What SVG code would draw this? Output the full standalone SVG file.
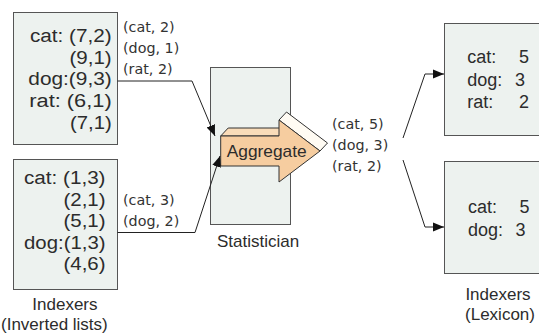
<svg xmlns="http://www.w3.org/2000/svg" width="539" height="333" viewBox="0 0 539 333">
<style>
.box{fill:#edf2ef;stroke:#555;stroke-width:1}
.t{font-family:"Liberation Sans",Arial,sans-serif;font-size:18px;fill:#2c2c2c}
.cap{font-family:"Liberation Sans",Arial,sans-serif;font-size:17px;fill:#2c2c2c}
.lbl{font-family:"DejaVu Sans","Liberation Sans",sans-serif;font-size:14.3px;fill:#333}
.ln{fill:none;stroke:#222;stroke-width:1}
</style>
<defs>
<marker id="ah" markerUnits="userSpaceOnUse" markerWidth="12" markerHeight="12" viewBox="0 0 12 12" refX="11" refY="6" orient="auto">
<path d="M0,1.5 L11,6 L0,10.5 Z" fill="#111"/>
</marker>
</defs>
<rect width="539" height="333" fill="#fff"/>

<g id="indexer1">
<rect class="box" x="13.5" y="12.5" width="104" height="132"/>
<text class="t" x="30" y="42" textLength="81.7" lengthAdjust="spacingAndGlyphs">cat: (7,2)</text>
<text class="t" x="69.5" y="63.5" textLength="42.2" lengthAdjust="spacingAndGlyphs">(9,1)</text>
<text class="t" x="28.3" y="85" textLength="83.4" lengthAdjust="spacingAndGlyphs">dog:(9,3)</text>
<text class="t" x="29.3" y="107" textLength="82.4" lengthAdjust="spacingAndGlyphs">rat:  (6,1)</text>
<text class="t" x="70" y="129" textLength="41.7" lengthAdjust="spacingAndGlyphs">(7,1)</text>
</g>

<g id="indexer2">
<rect class="box" x="13.5" y="159.5" width="104" height="130"/>
<text class="t" x="24" y="184" textLength="81.5" lengthAdjust="spacingAndGlyphs">cat: (1,3)</text>
<text class="t" x="63.5" y="205.5" textLength="42" lengthAdjust="spacingAndGlyphs">(2,1)</text>
<text class="t" x="63.5" y="227" textLength="42" lengthAdjust="spacingAndGlyphs">(5,1)</text>
<text class="t" x="24" y="248.5" textLength="81.5" lengthAdjust="spacingAndGlyphs">dog:(1,3)</text>
<text class="t" x="63.5" y="270" textLength="42" lengthAdjust="spacingAndGlyphs">(4,6)</text>
</g>
<g id="indexers-caption">
<text class="cap" x="32.3" y="310">Indexers</text>
<text class="cap" x="1" y="330">(Inverted lists)</text>
</g>

<g id="statistician">
<rect class="box" x="210.5" y="67.5" width="80" height="157"/>
<text class="cap" x="258" y="247" text-anchor="middle">Statistician</text>
</g>

<g id="aggregate">
<polygon points="220.7,136 228.2,128 286.5,128 279,136" fill="#f9dcb9" stroke="#333" stroke-width="1" stroke-linejoin="round"/>
<polygon points="279,120 286.5,112 327.5,143 320,151" fill="#fffbf3" stroke="#333" stroke-width="1" stroke-linejoin="round"/>
<polygon points="220.7,136 279,136 279,120 320,151 279,182 279,166 220.7,166" fill="#f6cda0" stroke="#333" stroke-width="1" stroke-linejoin="round"/>
<text class="cap" x="226.7" y="157" textLength="80" lengthAdjust="spacingAndGlyphs">Aggregate</text>
</g>

<g id="lexicon1">
<rect class="box" x="444.5" y="23.5" width="100" height="112"/>
<text class="t" x="467.3" y="63.3">cat:</text>
<text class="t" x="529" y="63.3" text-anchor="end">5</text>
<text class="t" x="467.3" y="86">dog:</text>
<text class="t" x="525" y="86" text-anchor="end">3</text>
<text class="t" x="467.3" y="108.3">rat:</text>
<text class="t" x="529" y="108.3" text-anchor="end">2</text>
</g>

<g id="lexicon2">
<rect class="box" x="444.5" y="161.5" width="100" height="112"/>
<text class="t" x="468" y="213.3">cat:</text>
<text class="t" x="529.5" y="213.3" text-anchor="end">5</text>
<text class="t" x="468" y="235.5">dog:</text>
<text class="t" x="525.5" y="235.5" text-anchor="end">3</text>
</g>
<g id="lexicon-caption">
<text class="cap" x="498" y="300" text-anchor="middle">Indexers</text>
<text class="cap" x="500" y="320" text-anchor="middle">(Lexicon)</text>
</g>

<g id="connectors">
<path class="ln" d="M117.5,81 H192 L215,136" marker-end="url(#ah)"/>
<path class="ln" d="M117.5,232.5 H195 L220,156" marker-end="url(#ah)"/>
<path class="ln" d="M403,138 L425,74 H444" marker-end="url(#ah)"/>
<path class="ln" d="M403,160 L425,227 H444" marker-end="url(#ah)"/>
</g>

<g id="labels">
<text class="lbl" x="123" y="32">(cat, 2)</text>
<text class="lbl" x="123" y="53">(dog, 1)</text>
<text class="lbl" x="123" y="74">(rat, 2)</text>
<text class="lbl" x="123" y="205">(cat, 3)</text>
<text class="lbl" x="123" y="226">(dog, 2)</text>
<text class="lbl" x="332" y="129">(cat, 5)</text>
<text class="lbl" x="332" y="150">(dog, 3)</text>
<text class="lbl" x="332" y="171">(rat, 2)</text>
</g>
</svg>
